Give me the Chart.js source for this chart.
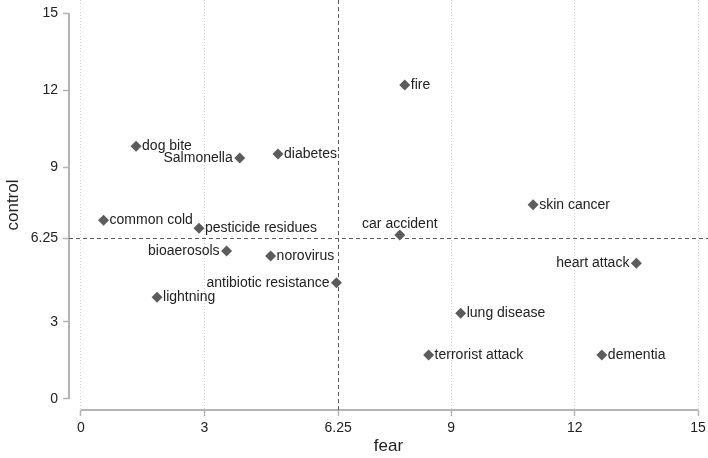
<!DOCTYPE html>
<html><head><meta charset="utf-8">
<script src="https://cdn.jsdelivr.net/npm/chart.js@4/dist/chart.umd.min.js"></script>
<style>html,body{margin:0;padding:0;background:#fff;overflow:hidden;}</style>
</head><body>
<canvas id="c" width="708" height="458"></canvas>
<script>
// ---- data ----
const riskNames = ["fire","dog bite","Salmonella","diabetes","common cold","pesticide residues","car accident","skin cancer","bioaerosols","norovirus","antibiotic resistance","lightning","heart attack","lung disease","terrorist attack","dementia"];
const fearValues = [7.87,1.34,3.86,4.79,0.55,2.87,7.75,10.99,3.54,4.61,6.21,1.85,13.50,9.23,8.45,12.66];
const controlValues = [12.21,9.83,9.37,9.53,6.95,6.64,6.38,7.55,5.76,5.56,4.52,3.96,5.28,3.33,1.71,1.71];
const labelSides = ["right","right","left","right","right","right","above","right","left","right","left","right","left","right","right","right"];
const tickValues = [0,3,6.25,9,12,15];
const tickLabels = ["0","3","6.25","9","12","15"];
const referenceValue = 6.25;
const xTitle = "fear";
const yTitle = "control";

const FONT = '"Liberation Sans", Arial, Helvetica, sans-serif';
const AXIS_GRAY = '#b4b4b4';

const points = fearValues.map((x,i)=>({x, y: controlValues[i]}));

const setTicks = scale => { scale.ticks = tickValues.map(v=>({value:v})); };
const fmt = v => { const i = tickValues.indexOf(v); return i>=0 ? tickLabels[i] : ''; };
const noPad = s => { s.paddingLeft = 0; s.paddingRight = 0; s.paddingTop = 0; s.paddingBottom = 0; };

const decorPlugin = {
  id: 'decor',
  beforeDatasetsDraw(chart){
    const {ctx, chartArea:a, scales:{x, y}} = chart;
    ctx.save();
    // axis lines (offset style), spanning 0..15
    ctx.strokeStyle = AXIS_GRAY; ctx.lineWidth = 2; ctx.setLineDash([]);
    ctx.beginPath();
    ctx.moveTo(a.left, y.getPixelForValue(tickValues[0]));
    ctx.lineTo(a.left, y.getPixelForValue(tickValues[tickValues.length-1]));
    ctx.moveTo(x.getPixelForValue(tickValues[0]), a.bottom);
    ctx.lineTo(x.getPixelForValue(tickValues[tickValues.length-1]), a.bottom);
    ctx.stroke();
    // reference lines
    ctx.strokeStyle = '#5a5a5a'; ctx.lineWidth = 1; ctx.setLineDash([4,3]);
    const rx = Math.round(x.getPixelForValue(referenceValue)) + 0.5;
    const ry = Math.round(y.getPixelForValue(referenceValue)) + 0.5;
    ctx.beginPath();
    ctx.moveTo(rx, a.top); ctx.lineTo(rx, a.bottom);
    ctx.moveTo(a.left, ry); ctx.lineTo(a.right, ry);
    ctx.stroke();
    ctx.restore();
  },
  afterDatasetsDraw(chart){
    const ctx = chart.ctx;
    const meta = chart.getDatasetMeta(0);
    ctx.save();
    ctx.font = '14px ' + FONT;
    ctx.fillStyle = '#222';
    ctx.textBaseline = 'middle';
    meta.data.forEach((pt,i)=>{
      const side = labelSides[i];
      if (side === 'right') { ctx.textAlign = 'left'; ctx.fillText(riskNames[i], pt.x + 6, pt.y); }
      else if (side === 'left') { ctx.textAlign = 'right'; ctx.fillText(riskNames[i], pt.x - 7, pt.y); }
      else { ctx.textAlign = 'center'; ctx.fillText(riskNames[i], pt.x, pt.y - 11); }
    });
    ctx.restore();
  }
};

new Chart(document.getElementById('c'), {
  type: 'scatter',
  data: { datasets: [{
    data: points,
    pointStyle: 'rectRot',
    pointRadius: 5.5,
    pointHoverRadius: 5.5,
    backgroundColor: '#5c5c5c',
    borderColor: '#5c5c5c',
    borderWidth: 0
  }]},
  options: {
    responsive: false,
    animation: false,
    devicePixelRatio: 1,
    layout: { padding: 0, autoPadding: false },
    plugins: { legend: {display:false}, tooltip: {enabled:false} },
    scales: {
      x: {
        type: 'linear', position: 'bottom',
        min: -0.29, max: 15.24,
        afterBuildTicks: setTicks,
        afterFit: s => { s.height = 48; noPad(s); },
        border: { display: false, dash: [1,2] },
        grid: {
          color: c => (c.tick && c.tick.value === referenceValue) ? 'rgba(0,0,0,0)' : '#d0d0d0',
          lineWidth: 1,
          tickColor: AXIS_GRAY, tickLength: 6, tickWidth: 1.5, tickBorderDash: []
        },
        ticks: { callback: v => fmt(v), color: '#222', font: {size: 14, family: FONT}, padding: 4, maxRotation: 0, autoSkip: false },
        title: { display: true, text: xTitle, color: '#222', font: {size: 17, family: FONT}, padding: {top: 0, bottom: 1} }
      },
      y: {
        type: 'linear', position: 'left',
        min: -0.43, max: 15.52,
        afterBuildTicks: setTicks,
        afterFit: s => { s.width = 69; noPad(s); },
        border: { display: false },
        grid: { drawOnChartArea: false, tickColor: AXIS_GRAY, tickLength: 6, tickWidth: 1.5 },
        ticks: { callback: v => fmt(v), color: '#222', font: {size: 14, family: FONT}, padding: 5, autoSkip: false },
        title: { display: true, text: yTitle, color: '#222', font: {size: 17, family: FONT}, padding: {top: 3, bottom: 0} }
      }
    }
  },
  plugins: [decorPlugin]
});
</script>
</body></html>
